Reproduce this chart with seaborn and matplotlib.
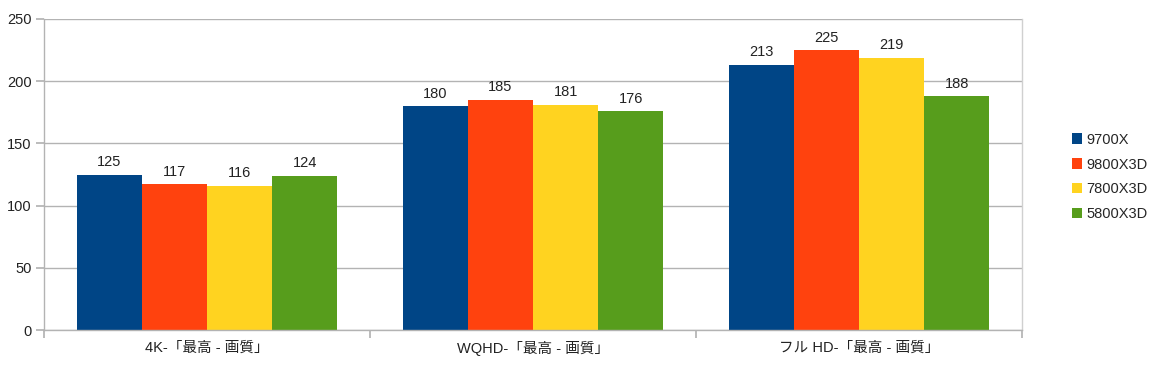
import matplotlib
matplotlib.use("Agg")
import matplotlib.pyplot as plt
import seaborn as sns
import pandas as pd
from matplotlib.patches import Patch

categories = ["4K-「最高 - 画質」", "WQHD-「最高 - 画質」", "フル HD-「最高 - 画質」"]
series = ["9700X", "9800X3D", "7800X3D", "5800X3D"]
v_9700x = [125, 180, 213]
v_9800x3d = [117, 185, 225]
v_7800x3d = [116, 181, 219]
v_5800x3d = [124, 176, 188]
colors = ["#004586", "#ff420e", "#ffd320", "#579d1c"]
yticks = [0, 50, 100, 150, 200, 250]

rows = []
for name, vals in zip(series, [v_9700x, v_9800x3d, v_7800x3d, v_5800x3d]):
    for c, v in zip(categories, vals):
        rows.append({"cat": c, "cpu": name, "val": v})
df = pd.DataFrame(rows)

sns.set_theme(style="white")
plt.rcParams["font.family"] = ["Liberation Sans", "Noto Sans CJK JP", "DejaVu Sans"]

fig = plt.figure(figsize=(11.58, 3.68), dpi=100)
ax = fig.add_axes([44/1158, 38/368, (1022-44)/1158, (330-19)/368])

sns.barplot(data=df, x="cat", y="val", hue="cpu", palette=colors, hue_order=series,
            order=categories, width=0.8, saturation=1, ax=ax, legend=False,
            edgecolor="none", linewidth=0)

for cont in ax.containers:
    ax.bar_label(cont, padding=4, fontsize=10.5, color="#222222")

ax.set_ylim(0, 250)
ax.set_xlim(-0.5, 2.5)
ax.set_yticks(yticks)
ax.yaxis.grid(True, color="#b3b3b3", linewidth=1)
ax.set_axisbelow(True)
ax.set_xlabel("")
ax.set_ylabel("")
ax.set_xticks([-0.5, 0.5, 1.5, 2.5])
ax.set_xticklabels([])
ax.set_xticks([0, 1, 2], minor=True)
ax.set_xticklabels(categories, minor=True, fontsize=10.5, color="#222222")
ax.tick_params(axis="x", which="major", length=6, color="#b3b3b3", direction="out", bottom=True)
ax.tick_params(axis="x", which="minor", length=0, pad=8)
ax.tick_params(axis="y", length=6, color="#b3b3b3", direction="out", left=True, labelsize=10.5,
               labelcolor="#222222", pad=3)
ax.spines["top"].set_visible(False)
ax.spines["right"].set_visible(True)
ax.spines["right"].set_color("#d0d0d0")
ax.spines["right"].set_linewidth(1)
for s in ["left", "bottom"]:
    ax.spines[s].set_color("#b3b3b3")
    ax.spines[s].set_linewidth(1)

handles = [Patch(facecolor=c, edgecolor="none", label=n) for c, n in zip(colors, series)]
fig.legend(handles=handles, loc="center left", bbox_to_anchor=(1066/1158, 1 - 177/368),
           frameon=False, fontsize=10.5, handlelength=0.7, handleheight=0.7,
           handletextpad=0.3, labelspacing=0.75, borderaxespad=0)

fig.savefig("out.png", dpi=100)
